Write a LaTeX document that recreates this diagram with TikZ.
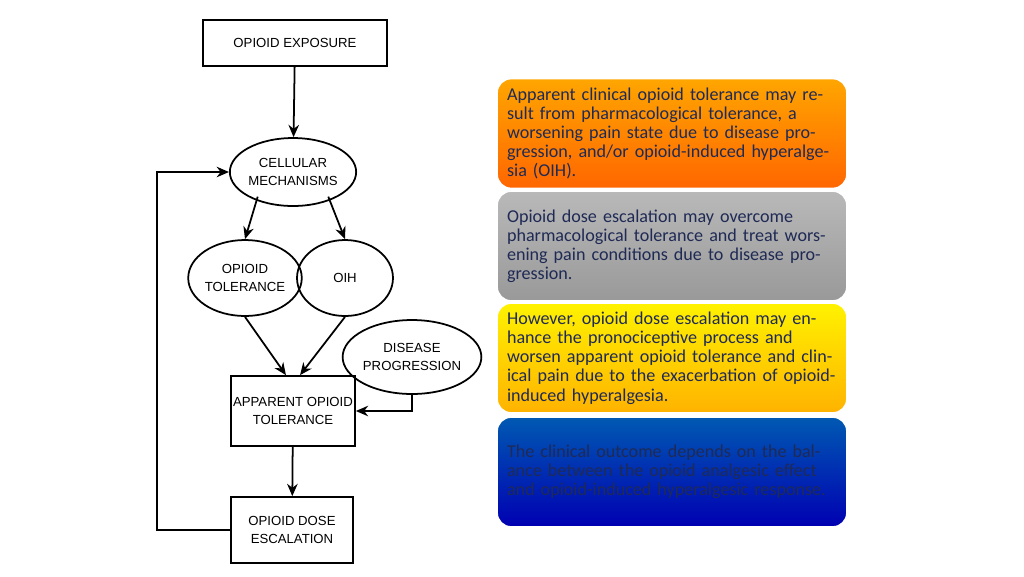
\documentclass[tikz,border=0pt]{standalone}
\usepackage{fontspec}
\setmainfont{Carlito}
\newfontfamily\flowfont{Liberation Sans}
\usetikzlibrary{arrows.meta,shapes.geometric}
\definecolor{txtblue}{HTML}{1F2A55}
\tikzset{
  flowbox/.style={draw, line width=1pt, minimum width=#1, inner sep=0pt, align=center, font=\flowfont\fontsize{7.5}{10}\selectfont},
  flowell/.style={draw, ellipse, line width=1pt, inner sep=0pt, align=center, font=\flowfont\fontsize{7.5}{10}\selectfont},
  flowarr/.style={-{Stealth[length=7pt,width=6pt]}, line width=1pt},
  infobox/.style={rounded corners=8pt, draw=white, line width=1pt, minimum width=7cm, minimum height=2.2cm,
    text width=6.6cm, align=left, text=txtblue, font=\fontsize{10.3}{10.9}\selectfont},
}
\begin{document}
\begin{tikzpicture}[x=0.02cm,y=-0.02cm]
  \useasboundingbox (0,0) rectangle (1024,576);
  % flowchart
  \node (expo) [flowbox=3.68cm, minimum height=0.92cm] at (295,43) {OPIOID EXPOSURE};
  \node (cell) [flowell, minimum width=2.04cm, minimum height=1.36cm] at (293,172) {CELLULAR\\MECHANISMS};
  \node (tol) [flowell, minimum width=2.0cm, minimum height=1.52cm] at (245,278) {OPIOID\\TOLERANCE};
  \node (oih) [flowell, minimum width=1.92cm, minimum height=1.52cm] at (345,278) {OIH};
  \node (dis) [flowell, minimum width=2.16cm, minimum height=1.48cm] at (412,357) {DISEASE\\PROGRESSION};
  \node (app) [flowbox=2.48cm, minimum height=1.4cm] at (293,411) {APPARENT OPIOID\\TOLERANCE};
  \node (esc) [flowbox=2.44cm, minimum height=1.32cm] at (292,530) {OPIOID DOSE\\ESCALATION};
  \coordinate (back) at (157,530);
  \draw[flowarr] (expo) -- (cell);
  \draw[flowarr] (cell.south west) ++(10,0) -- (tol.north);
  \draw[flowarr] (cell.south east) ++(-10,0) -- (oih.north);
  \draw[flowarr] (tol.south) -- ([xshift=-4]app.north);
  \draw[flowarr] (oih.south) -- ([xshift=4]app.north);
  \draw[flowarr] (dis.south) |- (app.east);
  \draw[flowarr] (app) -- (esc);
  \draw[flowarr] (esc.west) -- (back) |- (cell.west);
  % text boxes
  \node (b1) [infobox, top color=orange!70!yellow, bottom color=orange!80!red] at (672,133.5)
    {Apparent clinical opioid tolerance may result from pharmacological tolerance, a worsening pain state due to disease progression, and/or opioid-induced hyperalgesia (OIH).};
  \node (b2) [infobox, top color=gray!55, bottom color=gray!80] at (672,246)
    {Opioid dose escalation may overcome pharmacological tolerance and treat worsening pain conditions due to disease progression.};
  \node (b3) [infobox, top color=yellow!90!orange, bottom color=orange!60!yellow] at (672,358)
    {However, opioid dose escalation may enhance the pronociceptive process and worsen apparent opioid tolerance and clinical pain due to the exacerbation of opioid-induced hyperalgesia.};
  \node (b4) [infobox, top color=blue!50!cyan!70!black, bottom color=blue!70!black] at (672,472)
    {The clinical outcome depends on the balance between the opioid analgesic effect and opioid-induced hyperalgesic response.};
\end{tikzpicture}
\end{document}
